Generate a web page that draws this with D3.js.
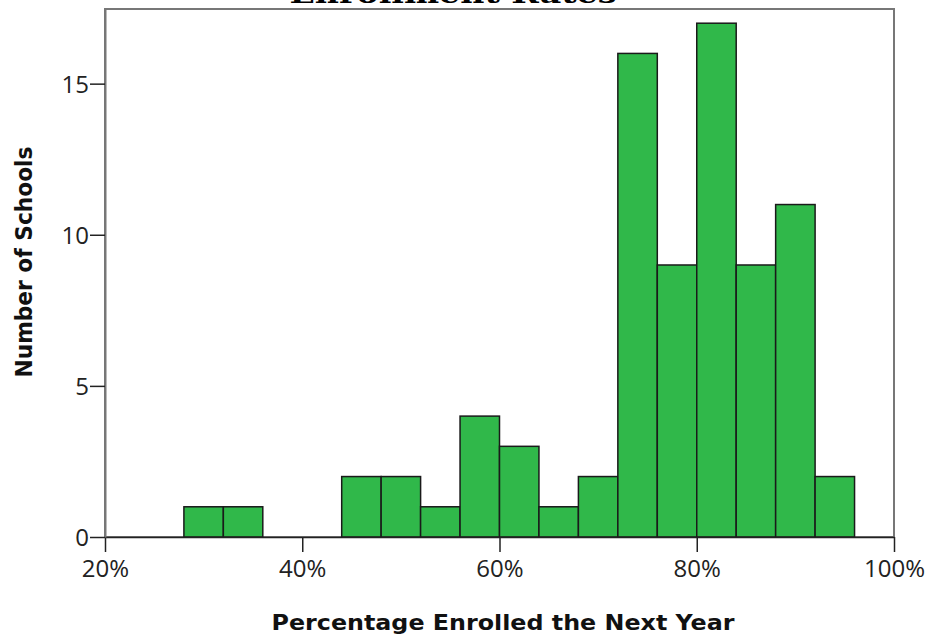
<!DOCTYPE html>
<html><head><meta charset="utf-8">
<script src="https://cdn.jsdelivr.net/npm/d3@7"></script>
<style>body{margin:0;background:#fff}svg{display:block}</style>
</head><body>
<svg id="c" width="932" height="636"></svg>
<script>
const binStarts = [28,32,36,40,44,48,52,56,60,64,68,72,76,80,84,88,92];
const counts    = [ 1, 1, 0, 0, 2, 2, 1, 4, 3, 1, 2,16, 9,17, 9,11, 2];
const binWidth = 4;
const xTicks = [20,40,60,80,100];
const yTicks = [0,5,10,15];
const titleText = "Enrollment Rates";
const xTitle = "Percentage Enrolled the Next Year";
const yTitle = "Number of Schools";

const svg = d3.select("#c");
const L=105, R=894, T=9, B=537;
const x = d3.scaleLinear().domain([20,100]).range([L,R]);
const y = d3.scaleLinear().domain([0,17.47]).range([B,T]);

// title (cut off at top)
svg.append("text").attr("x",453).attr("y",3).attr("text-anchor","middle")
  .attr("font-family","DejaVu Serif").attr("font-weight","bold").attr("font-size",26)
  .attr("textLength",327).attr("lengthAdjust","spacingAndGlyphs")
  .text(titleText);

// frame
svg.append("rect").attr("x",L).attr("y",T).attr("width",R-L).attr("height",B-T)
  .attr("fill","none").attr("stroke","#777").attr("stroke-width",2);

// bars
const data = binStarts.map((s,i)=>({s, c:counts[i]})).filter(d=>d.c>0);
svg.append("g").selectAll("rect").data(data).join("rect")
  .attr("x",d=>x(d.s)).attr("width",d=>x(d.s+binWidth)-x(d.s))
  .attr("y",d=>y(d.c)).attr("height",d=>y(0)-y(d.c))
  .attr("fill","#30b84a").attr("stroke","#1a1a1a").attr("stroke-width",1.5);

// x axis
const xa = svg.append("g").attr("transform",`translate(0,${B})`)
  .call(d3.axisBottom(x).tickValues(xTicks).tickFormat(d=>d+"%").tickSize(15).tickSizeOuter(0));
xa.select(".domain").attr("stroke","#222").attr("stroke-width",1.5);
xa.selectAll(".tick line").attr("stroke","#222").attr("stroke-width",1.5);
xa.selectAll(".tick text").attr("font-family","Open Sans").attr("font-size",24).attr("fill","#222").attr("dy","0.75em").attr("y",22);

// y axis
const ya = svg.append("g").attr("transform",`translate(${L},0)`)
  .call(d3.axisLeft(y).tickValues(yTicks).tickSize(15).tickSizeOuter(0));
ya.select(".domain").attr("stroke","#777").attr("stroke-width",2);
ya.selectAll(".tick line").attr("stroke","#222").attr("stroke-width",1.5);
ya.selectAll(".tick text").attr("font-family","Open Sans").attr("font-size",24).attr("fill","#222").attr("x",-16).attr("dy","0.35em");

// axis titles
svg.append("text").attr("x",503).attr("y",630).attr("text-anchor","middle")
  .attr("font-family","DejaVu Sans").attr("font-weight","bold").attr("font-size",22)
  .attr("textLength",463).attr("lengthAdjust","spacingAndGlyphs").attr("fill","#111")
  .text(xTitle);
svg.append("text").attr("transform","translate(32,262) rotate(-90)").attr("text-anchor","middle")
  .attr("font-family","DejaVu Sans").attr("font-weight","bold").attr("font-size",23)
  .attr("textLength",231).attr("lengthAdjust","spacingAndGlyphs").attr("fill","#111")
  .text(yTitle);
</script>
</body></html>
